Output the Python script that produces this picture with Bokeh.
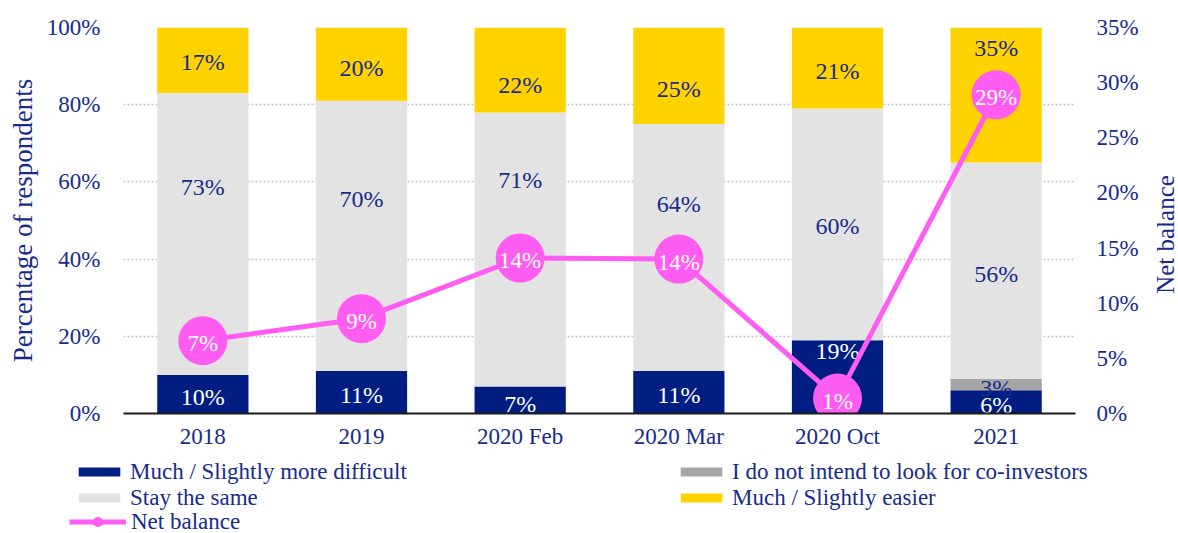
from bokeh.plotting import figure
from bokeh.layouts import column, row
from bokeh.models import (FactorRange, Range1d, LinearAxis, FixedTicker, PrintfTickFormatter,
                          Legend, LegendItem, ColumnDataSource)
from bokeh.core.properties import value
from bokeh.embed import file_html
from bokeh.resources import INLINE

categories = ["2018", "2019", "2020 Feb", "2020 Mar", "2020 Oct", "2021"]
more_difficult = [10, 11, 7, 11, 19, 6]
not_intend = [0, 0, 0, 0, 0, 3]
stay_same = [73, 70, 71, 64, 60, 56]
easier = [17, 20, 22, 25, 21, 35]
net_balance = [6.6, 8.6, 14.1, 14.0, 1.4, 28.9]
left_ticks = [0, 20, 40, 60, 80, 100]
right_ticks = [0, 5, 10, 15, 20, 25, 30, 35]

# label nudges (screen px, positive = down), as in the original layout
nudge_difficult = [3, 3, 4, 3, -26, 3]
nudge_not_intend = [0, 0, 0, 0, 0, 3]
nudge_same = [-47, -37, -69, -44, 2, 3]
nudge_easier = [2, 6, 15, 13, 3, -47]

NAVY = "#001e82"
DGRAY = "#a6a6a6"
LGRAY = "#e3e3e3"
YELLOW = "#ffd200"
PINK = "#ff5cf2"
TEXT = "#172b8c"
FONT = "Liberation Serif"

p = figure(x_range=FactorRange(*categories, range_padding=0), y_range=Range1d(0, 100),
           width=1152, height=455, output_backend="svg", toolbar_location=None,
           min_border_left=123, min_border_right=77, min_border_top=27, min_border_bottom=42)
p.extra_y_ranges = {"right": Range1d(0, 35)}
p.outline_line_color = None
p.frame_align = False

src = ColumnDataSource(dict(cat=categories, d=more_difficult, n=not_intend, s=stay_same, e=easier))
rs = p.vbar_stack(["d", "n", "s", "e"], x="cat", width=0.575, source=src,
                  fill_color=[NAVY, DGRAY, LGRAY, YELLOW], line_color=None)

# segment labels
lx, ly, lt, lc, lo = [], [], [], [], []
series = [(more_difficult, "white", nudge_difficult), (not_intend, TEXT, nudge_not_intend),
          (stay_same, TEXT, nudge_same), (easier, TEXT, nudge_easier)]
for i, cat in enumerate(categories):
    base = 0
    for vals, col, nud in series:
        v = vals[i]
        if v > 0:
            lx.append(cat); ly.append(base + v / 2); lt.append(f"{v}%"); lc.append(col); lo.append(nud[i])
        base += v
lsrc = ColumnDataSource(dict(x=lx, y=ly, t=lt, c=lc, o=lo))
p.text(x="x", y="y", text="t", text_color="c", y_offset="o", source=lsrc,
       text_align="center", text_baseline="middle",
       text_font=value(FONT), text_font_size="24px")

# net balance
nl = p.line(categories, net_balance, y_range_name="right", line_color=PINK, line_width=5)
nsc = p.scatter(categories, net_balance, y_range_name="right", size=49, fill_color=PINK, line_color=None)
p.text(x=categories, y=net_balance, text=[f"{round(v)}%" for v in net_balance], y_range_name="right",
       text_color="white", text_align="center", text_baseline="middle",
       text_font=value(FONT), text_font_size="23px", y_offset=3)

# axes
p.yaxis.ticker = FixedTicker(ticks=left_ticks)
p.yaxis.formatter = PrintfTickFormatter(format="%d%%")
p.yaxis.axis_label = "Percentage of respondents"
lax = p.yaxis[0]
lax.axis_line_color = None
lax.major_tick_line_color = None
lax.minor_tick_line_color = None
lax.major_tick_out = 0
lax.major_label_standoff = 23
lax.axis_label_standoff = 6

rax = LinearAxis(y_range_name="right", ticker=FixedTicker(ticks=right_ticks),
                 formatter=PrintfTickFormatter(format="%d%%"))
rax.axis_line_color = None
rax.major_tick_line_color = None
rax.minor_tick_line_color = None
rax.major_tick_out = 0
rax.major_label_standoff = 21
p.add_layout(rax, "right")

for ax in [lax, rax, p.xaxis[0]]:
    ax.major_label_text_font = FONT
    ax.major_label_text_font_size = "23px"
    ax.major_label_text_color = TEXT
    ax.axis_label_text_font = FONT
    ax.axis_label_text_font_style = "normal"
    ax.axis_label_text_color = TEXT
lax.axis_label_text_font_size = "27px"

xa = p.xaxis[0]
xa.axis_line_color = "#1a1a1a"
xa.axis_line_width = 2
xa.major_tick_line_color = None
xa.major_tick_out = 0
xa.major_tick_in = 0
xa.major_label_standoff = 10

p.xgrid.visible = False
p.ygrid.ticker = FixedTicker(ticks=left_ticks)
p.ygrid.grid_line_color = "#c4c4c4"
p.ygrid.grid_line_dash = "2 2"
p.ygrid.grid_line_width = 1.5

# narrow strip on the right carrying the secondary-axis title (reads bottom-to-top)
tf = figure(width=26, height=455, output_backend="svg", toolbar_location=None,
            x_range=Range1d(0, 1), y_range=Range1d(0, 35),
            x_axis_location=None, y_axis_location="left",
            min_border_left=25, min_border_right=0, min_border_top=55, min_border_bottom=42)
tf.frame_align = False
tf.outline_line_color = None
tf.grid.visible = False
tax = tf.yaxis[0]
tax.ticker = FixedTicker(ticks=[])
tax.axis_line_color = None
tax.major_tick_line_color = None
tax.minor_tick_line_color = None
tax.major_tick_out = 0
tax.major_label_text_font_size = "0px"
tax.axis_label = "Net balance"
tax.axis_label_standoff = 0
tax.axis_label_text_font = FONT
tax.axis_label_text_font_style = "normal"
tax.axis_label_text_color = TEXT
tax.axis_label_text_font_size = "25px"

# legend strip below the chart
lg = figure(width=1178, height=78, output_backend="svg", toolbar_location=None,
            x_range=Range1d(0, 1), y_range=Range1d(0, 1),
            x_axis_location=None, y_axis_location=None,
            min_border_left=0, min_border_right=0, min_border_top=0, min_border_bottom=0)
lg.frame_align = False
lg.outline_line_color = None
lg.grid.visible = False
hx = [50]
g_d = lg.vbar(x=hx, top=[60], bottom=[50], width=0.1, fill_color=NAVY, line_color=None)
g_n = lg.vbar(x=hx, top=[60], bottom=[50], width=0.1, fill_color=DGRAY, line_color=None)
g_s = lg.vbar(x=hx, top=[60], bottom=[50], width=0.1, fill_color=LGRAY, line_color=None)
g_e = lg.vbar(x=hx, top=[60], bottom=[50], width=0.1, fill_color=YELLOW, line_color=None)
g_l = lg.line(x=hx, y=[55], line_color=PINK, line_width=5)
g_c = lg.scatter(x=hx, y=[55], size=10, fill_color=PINK, line_color=None)

def mk_legend(items, loc, gw, gh, lh):
    return Legend(items=items, location=loc, padding=0, margin=0, spacing=0,
                  label_height=lh, glyph_height=gh, glyph_width=gw, label_standoff=5,
                  label_text_font=FONT, label_text_font_size="23px", label_text_color=TEXT,
                  border_line_color=None, background_fill_alpha=0)

leg1 = mk_legend([LegendItem(label="Much / Slightly more difficult", renderers=[g_d]),
                  LegendItem(label="Stay the same", renderers=[g_s])], (73, 22.5), 52, 11, 25)
leg2 = mk_legend([LegendItem(label="I do not intend to look for co-investors", renderers=[g_n]),
                  LegendItem(label="Much / Slightly easier", renderers=[g_e])], (675, 22.5), 52, 11, 25)
leg3 = mk_legend([LegendItem(label="Net balance", renderers=[g_l, g_c])], (69, -1.5), 57, 25, 25)
for l in (leg1, leg2, leg3):
    lg.add_layout(l, "center")

layout = column(row(p, tf, spacing=0), lg, spacing=0)
open("out.html", "w").write(file_html(layout, INLINE))
